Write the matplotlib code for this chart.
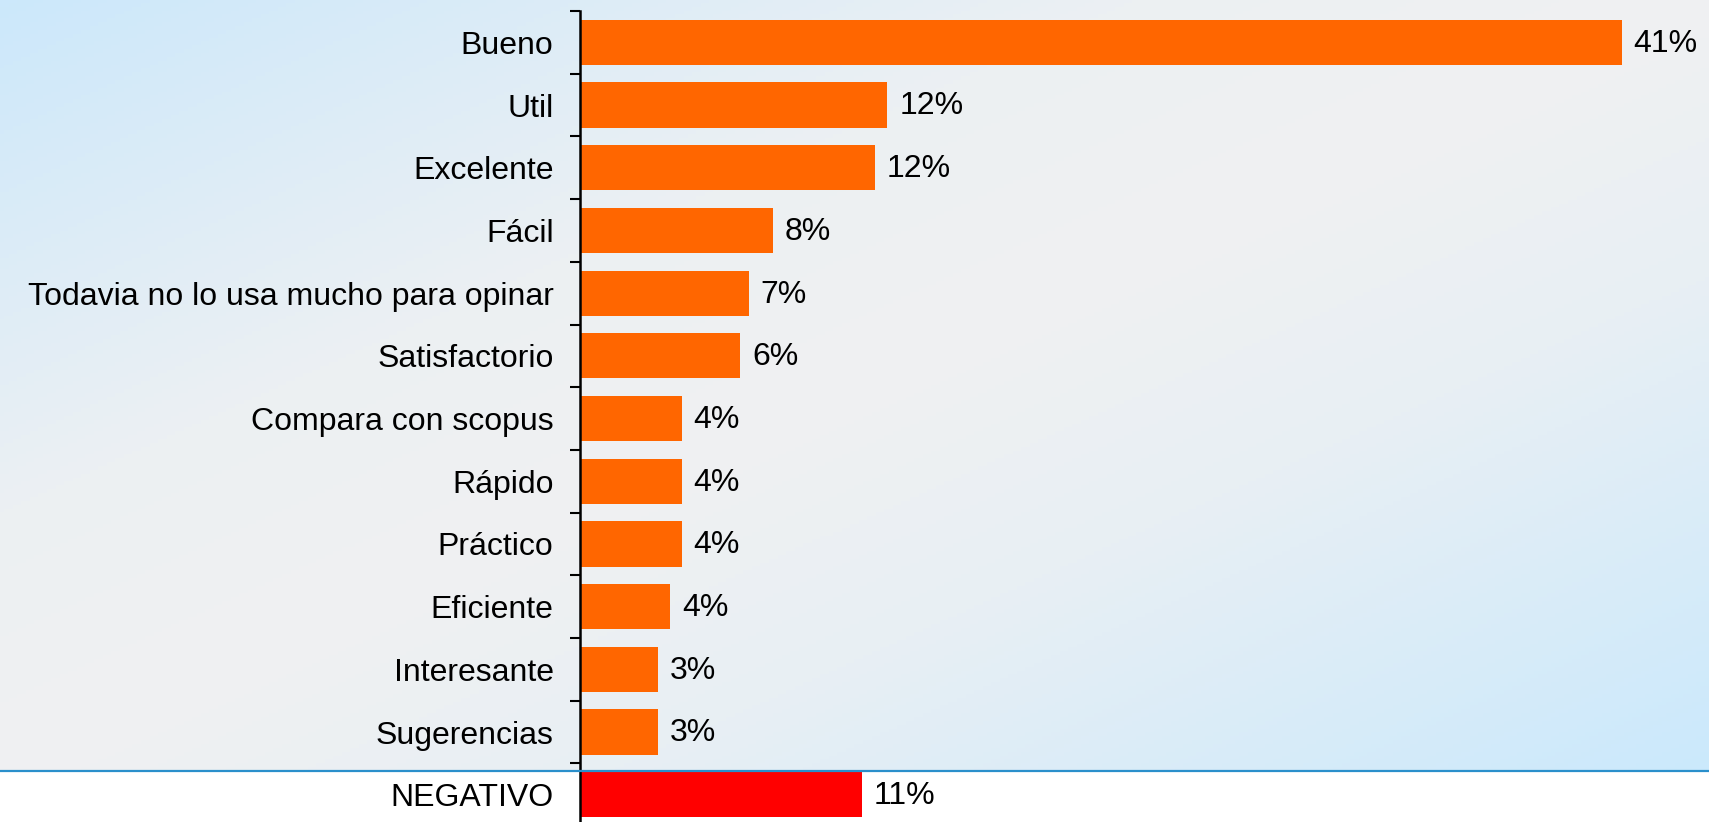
import matplotlib
matplotlib.use('Agg')
import matplotlib.pyplot as plt
import numpy as np
from matplotlib.colors import LinearSegmentedColormap
from matplotlib.lines import Line2D

plt.rcParams['font.family'] = ['Liberation Sans', 'DejaVu Sans']

# datos (porcentaje de respuestas)
categorias = ['Bueno', 'Util', 'Excelente', 'Fácil',
              'Todavia no lo usa mucho para opinar', 'Satisfactorio',
              'Compara con scopus', 'Rápido', 'Práctico', 'Eficiente',
              'Interesante', 'Sugerencias', 'NEGATIVO']
valores = [41.0, 12.1, 11.6, 7.6, 6.65, 6.3, 4.0, 4.0, 4.0, 3.55, 3.07, 3.07, 11.1]
etiquetas = ['41%', '12%', '12%', '8%', '7%', '6%', '4%', '4%', '4%', '4%',
             '3%', '3%', '11%']
colores = ['#ff6600'] * 12 + ['#ff0000']

W, H = 1709, 822
fig = plt.figure(figsize=(W / 100, H / 100), dpi=100)
fig.patch.set_facecolor('white')

# fondo degradado (azul -> gris -> azul en diagonal)
sep_y = 771
bg = fig.add_axes([0, (H - sep_y) / H, 1, sep_y / H])
bg.set_axis_off()
xx, yy = np.meshgrid(np.linspace(0, 1, 400), np.linspace(0, 1, 200))
t = (xx + yy) / 2
cmap = LinearSegmentedColormap.from_list('fondo', [
    (0.0, '#cce8fb'), (0.33, '#ecf0f3'), (0.5, '#f0f1f2'),
    (0.68, '#e8eff4'), (1.0, '#cbe9fc')])
bg.imshow(t, cmap=cmap, aspect='auto', extent=[0, 1, 1, 0], vmin=0, vmax=1)
bg.set_xlim(0, 1)
bg.set_ylim(1, 0)

fig.add_artist(Line2D([0, 1], [(H - sep_y) / H] * 2, color='#2a8fcb',
                      lw=1.6, transform=fig.transFigure))

left = 580
px_por_pct = 25.41
top = 11
fila = 62.7
n = len(categorias)
ax = fig.add_axes([left / W, (H - top - n * fila) / H, (W - left) / W, n * fila / H])
ax.patch.set_alpha(0)

y = np.arange(n)
ax.barh(y, valores, height=0.72, color=colores)
ax.set_xlim(0, (W - left) / px_por_pct)
ax.set_ylim(n - 0.5, -0.5)

for yi, v, lab in zip(y, valores, etiquetas):
    ax.annotate(lab, (v, yi), xytext=(8.5, -1), textcoords='offset points',
                va='center', ha='left', fontsize=23, annotation_clip=False)

for s in ['top', 'right', 'bottom']:
    ax.spines[s].set_visible(False)
ax.spines['left'].set_linewidth(1.8)
ax.spines['left'].set_color('black')

ax.set_xticks([])
ax.set_yticks(y)
ax.set_yticklabels(categorias, fontsize=23)
ax.set_yticks(np.arange(n) - 0.5, minor=True)
ax.tick_params(axis='y', which='major', length=0, pad=19)
ax.tick_params(axis='y', which='minor', length=7.2, width=1.5, color='black')

fig.savefig('out.png', dpi=100)
